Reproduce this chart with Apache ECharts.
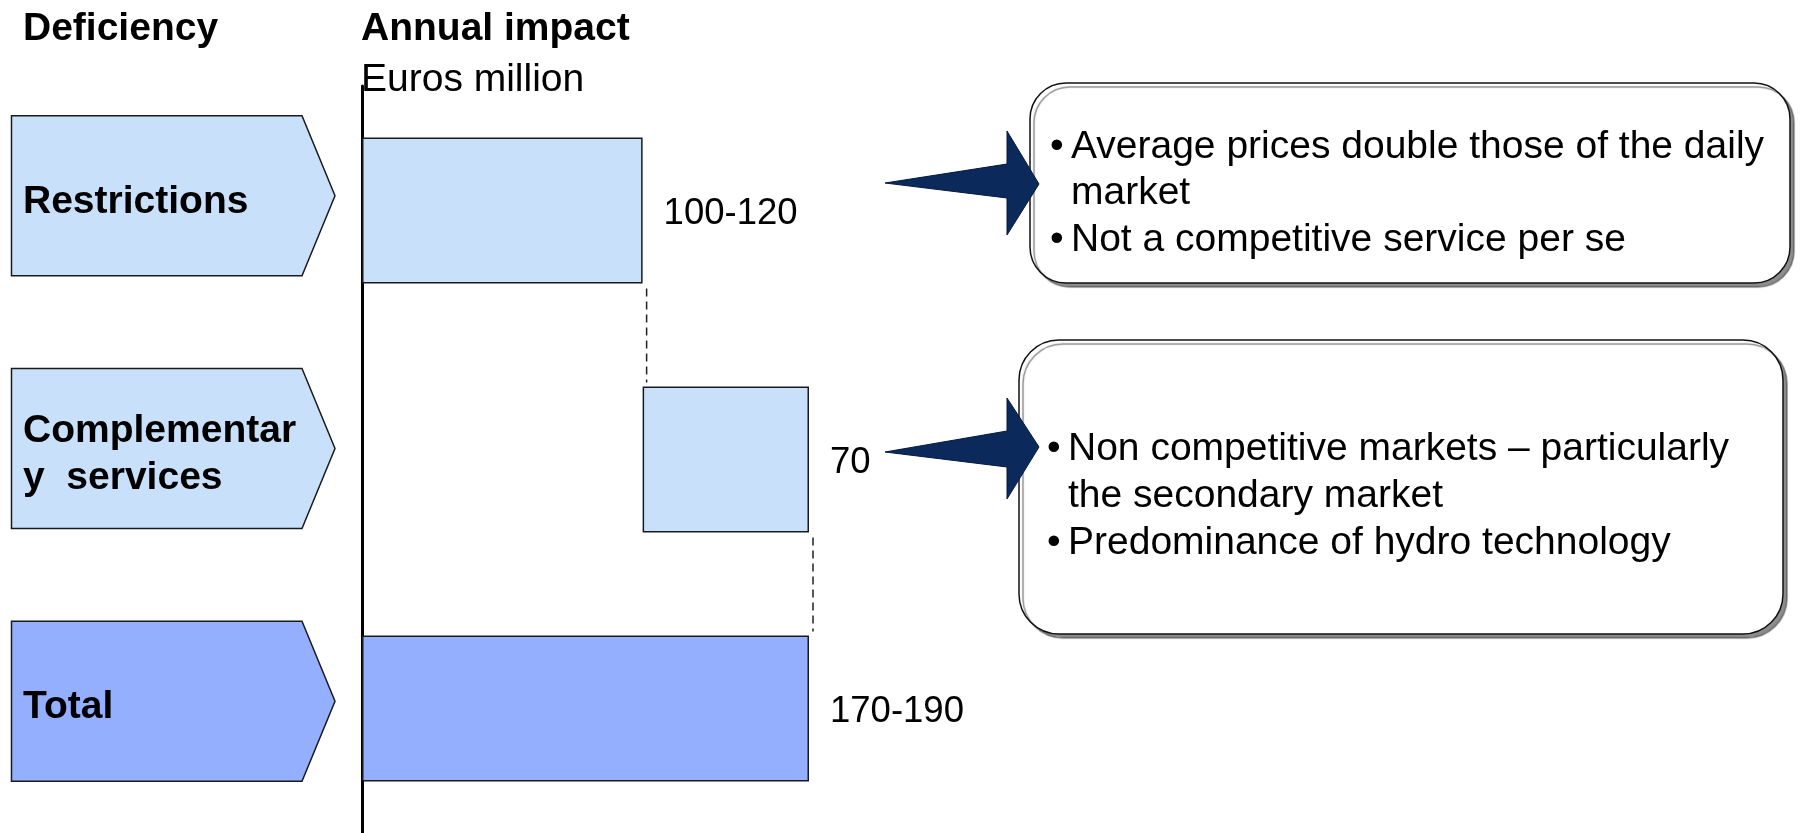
<!DOCTYPE html>
<html lang="en">
<head>
    <meta charset="UTF-8">
    <title>Annual impact of deficiencies</title>
    <script src="https://cdn.jsdelivr.net/npm/echarts@6/dist/echarts.min.js"></script>
    <style>
        html, body { margin: 0; padding: 0; background: #fff; }
        #main { width: 1800px; height: 833px; }
    </style>
</head>
<body>
<div id="main"></div>
<script type="text/javascript">
    // data
    var categories = ['Restrictions', 'Complementary services', 'Total'];
    var chevronLabels = ['Restrictions', 'Complementar\ny  services', 'Total'];
    var barStart = [0, 113, 0];
    var barValue = [113, 67, 180];
    var valueLabels = ['100-120', '70', '170-190'];
    var barColors = ['#c8e0fa', '#c8e0fa', '#93affd'];
    var box1Lines = [
        ['•', 'Average prices double those of the daily'],
        ['', 'market'],
        ['•', 'Not a competitive service per se']
    ];
    var box2Lines = [
        ['•', 'Non competitive markets – particularly'],
        ['', 'the secondary market'],
        ['•', 'Predominance of hydro technology']
    ];

    var FONT = '"Liberation Sans", Arial, sans-serif';
    var chartDom = document.getElementById('main');
    var myChart = echarts.init(chartDom);

    // text lines inside the call-out boxes
    function boxText(lines, bx, tx, y0, step) {
        var out = [];
        lines.forEach(function (l, i) {
            if (l[0]) {
                out.push({ type: 'text', x: bx, y: y0 + i * step, z: 20,
                    style: { text: l[0], font: '39px ' + FONT, fill: '#000', verticalAlign: 'middle' } });
            }
            out.push({ type: 'text', x: tx, y: y0 + i * step, z: 20,
                style: { text: l[1], font: '39px ' + FONT, fill: '#000', verticalAlign: 'middle' } });
        });
        return out;
    }

    var graphics = [
        { type: 'text', x: 23, y: 29, style: { text: 'Deficiency', font: 'bold 39px ' + FONT, fill: '#000', verticalAlign: 'middle' } },
        { type: 'text', x: 361, y: 29, style: { text: 'Annual impact', font: 'bold 39px ' + FONT, fill: '#000', verticalAlign: 'middle' } },
        { type: 'text', x: 361, y: 80, style: { text: 'Euros million', font: '39px ' + FONT, fill: '#000', verticalAlign: 'middle' } },
        { type: 'rect', z: 10, shape: { x: 1030, y: 83, width: 760, height: 200, r: 36 },
            style: { fill: '#fff', stroke: '#111', lineWidth: 1.5, shadowColor: 'rgba(0,0,0,0.45)', shadowBlur: 1, shadowOffsetX: 4, shadowOffsetY: 4 } },
        { type: 'rect', z: 10, shape: { x: 1019, y: 340, width: 764, height: 294, r: 40 },
            style: { fill: '#fff', stroke: '#111', lineWidth: 1.5, shadowColor: 'rgba(0,0,0,0.45)', shadowBlur: 1, shadowOffsetX: 4, shadowOffsetY: 4 } },
        { type: 'polygon', z: 30, shape: { points: [[885, 183], [1007, 164], [1007, 131], [1039, 184], [1007, 235], [1007, 198]] },
            style: { fill: '#0b2a5b', stroke: '#06183a', lineWidth: 1 } },
        { type: 'polygon', z: 30, shape: { points: [[885, 452], [1007, 431], [1007, 398], [1039, 447], [1007, 499], [1007, 467]] },
            style: { fill: '#0b2a5b', stroke: '#06183a', lineWidth: 1 } }
    ].concat(boxText(box1Lines, 1050, 1071, 147, 46.5), boxText(box2Lines, 1047, 1068, 449, 47));

    var option = {
        animation: false,
        grid: { left: 362, top: 86, bottom: 0, right: 991, containLabel: false },
        xAxis: { type: 'value', min: 0, max: 180, show: false },
        yAxis: {
            type: 'category',
            data: categories,
            inverse: true,
            axisLine: { show: true, lineStyle: { color: '#000', width: 3 } },
            axisTick: { show: false },
            axisLabel: { show: false },
            splitLine: { show: false }
        },
        graphic: graphics,
        series: [
            {
                name: 'base', type: 'bar', stack: 'w', barWidth: 146, silent: true,
                itemStyle: { color: 'transparent' },
                data: barStart
            },
            {
                name: 'impact', type: 'bar', stack: 'w', barWidth: 146,
                data: barValue.map(function (v, i) {
                    return { value: v, itemStyle: { color: barColors[i] } };
                }),
                itemStyle: { borderColor: '#1a1a1a', borderWidth: 1.5 },
                label: {
                    show: true, position: 'right', distance: 21, offset: [0, 3],
                    fontFamily: FONT, fontSize: 36.5, color: '#000',
                    formatter: function (p) { return valueLabels[p.dataIndex]; }
                }
            },
            {
                // chevron shaped category labels on the left
                name: 'chevrons', type: 'custom', silent: true,
                data: categories.map(function (c, i) { return [0, i]; }),
                renderItem: function (params, api) {
                    var mid = api.coord([0, 1])[1];
                    var c = api.coord([0, api.value(1)])[1];
                    // chevrons sit a little higher and slightly wider apart than the bars
                    var cy = mid + (c - mid) * 1.015 - 11;
                    var h = 80;
                    return {
                        type: 'group',
                        children: [
                            { type: 'polygon',
                              shape: { points: [[11.5, cy - h], [302, cy - h], [335, cy], [302, cy + h], [11.5, cy + h]] },
                              style: { fill: barColors[params.dataIndex], stroke: '#1a1a1a', lineWidth: 1.5 } },
                            { type: 'text', x: 23, y: cy + 6,
                              style: { text: chevronLabels[params.dataIndex], font: 'bold 39px ' + FONT, fill: '#000',
                                       verticalAlign: 'middle', lineHeight: 47 } }
                        ]
                    };
                }
            },
            {
                // dashed connectors between waterfall steps
                name: 'connectors', type: 'custom', silent: true,
                data: [[0, 113, 1], [1, 180, 2]],
                renderItem: function (params, api) {
                    var a = api.coord([api.value(1), api.value(0)]);
                    var b = api.coord([api.value(1), api.value(2)]);
                    var half = 73;
                    return {
                        type: 'line',
                        shape: { x1: a[0] + 4, y1: a[1] + half + 5, x2: b[0] + 4, y2: b[1] - half - 4 },
                        style: { stroke: '#222', lineWidth: 1.5, lineDash: [8, 5] }
                    };
                }
            }
        ]
    };

    myChart.setOption(option);
</script>
</body>
</html>
